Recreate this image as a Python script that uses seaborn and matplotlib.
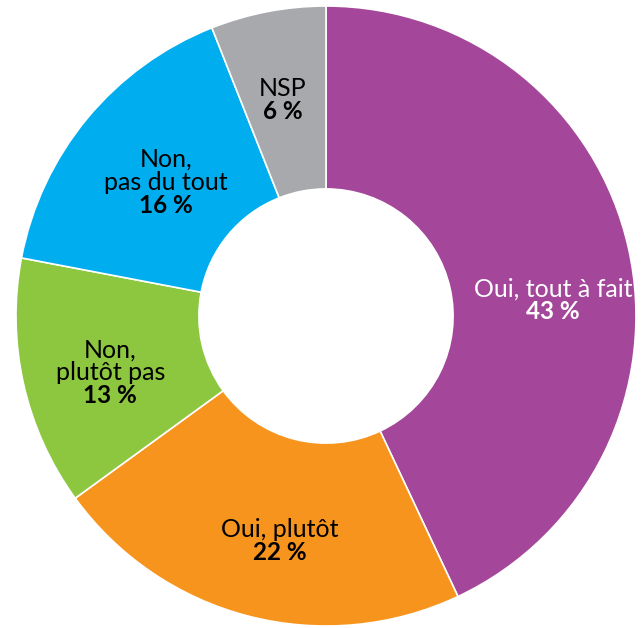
import matplotlib
matplotlib.use("Agg")
import matplotlib.pyplot as plt
import numpy as np
import seaborn as sns

labels = ["Oui, tout à fait", "Oui, plutôt", "Non,\nplutôt pas", "Non,\npas du tout", "NSP"]
values = [43, 22, 13, 16, 6]
colors = ["#A4479A", "#F7941D", "#8DC63F", "#00AEEF", "#A7A9AC"]
text_colors = ["white", "black", "black", "black", "black"]
# small angle nudges (degrees) for label placement
nudges = [-8.6, 2.8, 5.0, 2.2, 0.5]
label_r = [0.735, 0.74, 0.73, 0.65, 0.71]

sns.set_style("white")
plt.rcParams["font.family"] = ["Lato", "DejaVu Sans"]

fig = plt.figure(figsize=(6.43, 6.28), dpi=100)
ax = fig.add_axes([0, 0, 1, 1])

wedges, _ = ax.pie(values, colors=colors, startangle=90, counterclock=False,
                   radius=1.0,
                   wedgeprops=dict(width=0.59, edgecolor="white", linewidth=1.2))

for w, lab, val, tc, nd, r in zip(wedges, labels, values, text_colors, nudges, label_r):
    ang = np.deg2rad((w.theta1 + w.theta2) / 2 + nd)
    x, y = r * np.cos(ang), r * np.sin(ang)
    ax.annotate(lab, (x, y), xytext=(0, 0), textcoords="offset points",
                ha="center", va="bottom", multialignment="center",
                fontsize=18, color=tc, linespacing=1.0)
    ax.annotate(f"{val} %", (x, y), xytext=(0, 0), textcoords="offset points",
                ha="center", va="top", fontsize=17.5, fontweight="bold", color=tc)

ax.set_xlim(-1.0516, 1.0226)
ax.set_ylim(-1.006, 1.019)
ax.set_aspect("equal")
ax.axis("off")

fig.savefig("out.png", dpi=100, facecolor="white")
